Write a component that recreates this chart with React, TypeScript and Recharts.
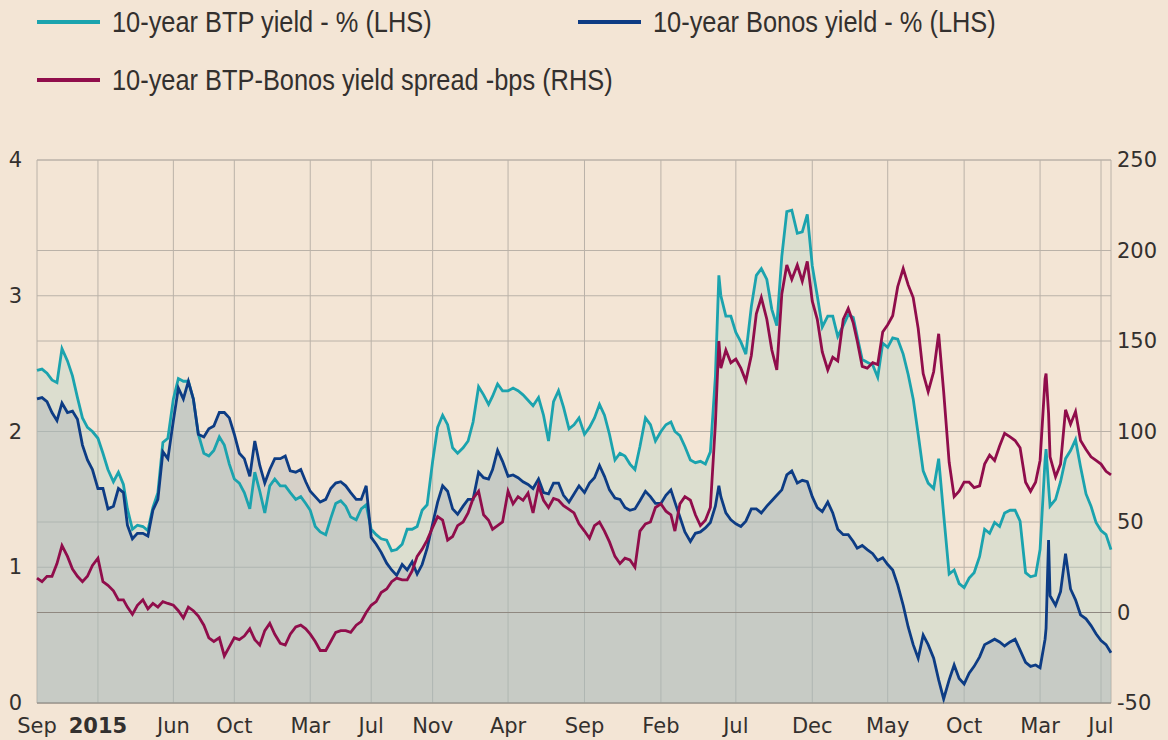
import React from 'react'
import { ComposedChart, Area, Line, XAxis, YAxis, CartesianGrid, ReferenceLine } from 'recharts'

// observation dates (roughly every 10 days, a few extra on the big spikes)
const dates = [
  '2014-09-01', '2014-09-11', '2014-09-21', '2014-10-01', '2014-10-11', '2014-10-21', '2014-11-01', '2014-11-11', '2014-11-21', '2014-12-01', '2014-12-11', '2014-12-21',
  '2015-01-01', '2015-01-11', '2015-01-21', '2015-02-01', '2015-02-11', '2015-02-21', '2015-03-01', '2015-03-11', '2015-03-21', '2015-04-01', '2015-04-11', '2015-04-21',
  '2015-05-01', '2015-05-11', '2015-05-21', '2015-06-01', '2015-06-11', '2015-06-21', '2015-07-01', '2015-07-11', '2015-07-21', '2015-08-01', '2015-08-11', '2015-08-21',
  '2015-09-01', '2015-09-11', '2015-09-21', '2015-10-01', '2015-10-11', '2015-10-21', '2015-11-01', '2015-11-11', '2015-11-21', '2015-12-01', '2015-12-11', '2015-12-21',
  '2016-01-01', '2016-01-11', '2016-01-21', '2016-02-01', '2016-02-11', '2016-02-21', '2016-03-01', '2016-03-11', '2016-03-21', '2016-04-01', '2016-04-11', '2016-04-21',
  '2016-05-01', '2016-05-11', '2016-05-21', '2016-06-01', '2016-06-11', '2016-06-21', '2016-07-01', '2016-07-11', '2016-07-21', '2016-08-01', '2016-08-11', '2016-08-21',
  '2016-09-01', '2016-09-11', '2016-09-21', '2016-10-01', '2016-10-11', '2016-10-21', '2016-11-01', '2016-11-11', '2016-11-21', '2016-12-01', '2016-12-11', '2016-12-21',
  '2017-01-01', '2017-01-11', '2017-01-21', '2017-02-01', '2017-02-11', '2017-02-21', '2017-03-01', '2017-03-11', '2017-03-21', '2017-04-01', '2017-04-11', '2017-04-21',
  '2017-05-01', '2017-05-11', '2017-05-21', '2017-06-01', '2017-06-11', '2017-06-21', '2017-07-01', '2017-07-11', '2017-07-21', '2017-08-01', '2017-08-11', '2017-08-21',
  '2017-09-01', '2017-09-11', '2017-09-21', '2017-10-01', '2017-10-11', '2017-10-21', '2017-11-01', '2017-11-11', '2017-11-21', '2017-12-01', '2017-12-11', '2017-12-21',
  '2018-01-01', '2018-01-11', '2018-01-21', '2018-02-01', '2018-02-11', '2018-02-21', '2018-03-01', '2018-03-11', '2018-03-21', '2018-04-01', '2018-04-11', '2018-04-21',
  '2018-05-01', '2018-05-11', '2018-05-21', '2018-05-28', '2018-06-01', '2018-06-11', '2018-06-21', '2018-07-01', '2018-07-11', '2018-07-21', '2018-08-01', '2018-08-11', '2018-08-21',
  '2018-09-01', '2018-09-11', '2018-09-21', '2018-10-01', '2018-10-11', '2018-10-21', '2018-11-01', '2018-11-11', '2018-11-21', '2018-12-01', '2018-12-11', '2018-12-21',
  '2019-01-01', '2019-01-11', '2019-01-21', '2019-02-01', '2019-02-11', '2019-02-21', '2019-03-01', '2019-03-11', '2019-03-21', '2019-04-01', '2019-04-11', '2019-04-21',
  '2019-05-01', '2019-05-11', '2019-05-21', '2019-06-01', '2019-06-11', '2019-06-21', '2019-07-01', '2019-07-11', '2019-07-21', '2019-08-01', '2019-08-11', '2019-08-21',
  '2019-09-01', '2019-09-11', '2019-09-21', '2019-10-01', '2019-10-11', '2019-10-21', '2019-11-01', '2019-11-11', '2019-11-21', '2019-12-01', '2019-12-11', '2019-12-21',
  '2020-01-01', '2020-01-11', '2020-01-21', '2020-02-01', '2020-02-11', '2020-02-21', '2020-03-01', '2020-03-11', '2020-03-13', '2020-03-18', '2020-03-21',
  '2020-04-01', '2020-04-11', '2020-04-21', '2020-05-01', '2020-05-11', '2020-05-21', '2020-06-01', '2020-06-11', '2020-06-21', '2020-07-01', '2020-07-11', '2020-07-21',
]

// 10-year BTP yield, %
const btpYield = [
  2.45, 2.46, 2.43, 2.38, 2.36, 2.61, 2.52, 2.41, 2.25, 2.10, 2.03, 2.00,
  1.95, 1.84, 1.72, 1.63, 1.70, 1.61, 1.43, 1.28, 1.31, 1.30, 1.27, 1.44,
  1.55, 1.92, 1.95, 2.24, 2.39, 2.37, 2.37, 2.24, 1.98, 1.84, 1.82, 1.86,
  1.96, 1.90, 1.76, 1.65, 1.62, 1.55, 1.43, 1.70, 1.56, 1.40, 1.60, 1.65,
  1.60, 1.60, 1.55, 1.50, 1.52, 1.47, 1.42, 1.30, 1.26, 1.24, 1.36, 1.47,
  1.49, 1.45, 1.37, 1.35, 1.43, 1.46, 1.28, 1.24, 1.21, 1.20, 1.12, 1.13,
  1.17, 1.28, 1.28, 1.30, 1.42, 1.46, 1.78, 2.03, 2.12, 2.05, 1.88, 1.84,
  1.88, 1.93, 2.07, 2.33, 2.27, 2.20, 2.26, 2.35, 2.30, 2.30, 2.32, 2.30,
  2.27, 2.23, 2.19, 2.25, 2.12, 1.93, 2.22, 2.30, 2.18, 2.02, 2.05, 2.10,
  1.98, 2.03, 2.10, 2.20, 2.12, 1.98, 1.79, 1.84, 1.82, 1.76, 1.72, 1.89,
  2.10, 2.05, 1.93, 2.00, 2.05, 2.07, 2.00, 1.97, 1.89, 1.79, 1.77, 1.78,
  1.76, 1.85, 2.40, 3.15, 3.00, 2.85, 2.85, 2.73, 2.66, 2.57, 2.92, 3.15, 3.20,
  3.12, 2.90, 2.78, 3.29, 3.62, 3.63, 3.46, 3.47, 3.60, 3.22, 3.00, 2.77,
  2.85, 2.85, 2.70, 2.78, 2.86, 2.84, 2.70, 2.53, 2.51, 2.49, 2.40, 2.65,
  2.62, 2.69, 2.68, 2.57, 2.42, 2.24, 1.98, 1.71, 1.62, 1.58, 1.80, 1.39,
  0.95, 0.98, 0.88, 0.85, 0.92, 0.96, 1.08, 1.28, 1.25, 1.33, 1.30, 1.40,
  1.42, 1.42, 1.34, 0.96, 0.93, 0.94, 1.13, 1.79, 1.87, 1.60, 1.45,
  1.50, 1.63, 1.80, 1.86, 1.94, 1.74, 1.54, 1.45, 1.33, 1.27, 1.24, 1.13,
]

// 10-year Bonos yield, %
const bonosYield = [
  2.24, 2.25, 2.22, 2.14, 2.08, 2.21, 2.14, 2.15, 2.09, 1.90, 1.79, 1.72,
  1.58, 1.58, 1.43, 1.45, 1.58, 1.55, 1.31, 1.21, 1.25, 1.25, 1.23, 1.42,
  1.50, 1.85, 1.80, 2.08, 2.32, 2.24, 2.37, 2.24, 1.98, 1.96, 2.02, 2.04,
  2.14, 2.14, 2.10, 1.98, 1.84, 1.80, 1.67, 1.93, 1.75, 1.62, 1.72, 1.80,
  1.80, 1.82, 1.71, 1.70, 1.72, 1.63, 1.56, 1.52, 1.48, 1.50, 1.58, 1.62,
  1.63, 1.60, 1.55, 1.50, 1.50, 1.60, 1.22, 1.17, 1.11, 1.03, 0.98, 0.94,
  1.02, 0.98, 1.04, 0.95, 1.02, 1.14, 1.32, 1.48, 1.60, 1.56, 1.43, 1.39,
  1.45, 1.50, 1.50, 1.70, 1.66, 1.65, 1.72, 1.86, 1.78, 1.67, 1.68, 1.66,
  1.63, 1.61, 1.58, 1.65, 1.55, 1.54, 1.62, 1.62, 1.53, 1.48, 1.54, 1.60,
  1.55, 1.62, 1.66, 1.75, 1.67, 1.57, 1.51, 1.50, 1.44, 1.42, 1.43, 1.49,
  1.56, 1.52, 1.47, 1.47, 1.53, 1.57, 1.48, 1.37, 1.26, 1.19, 1.25, 1.26,
  1.29, 1.33, 1.45, 1.60, 1.52, 1.40, 1.35, 1.32, 1.30, 1.34, 1.43, 1.43, 1.40,
  1.45, 1.49, 1.53, 1.57, 1.68, 1.71, 1.62, 1.64, 1.63, 1.52, 1.44, 1.41,
  1.48, 1.40, 1.28, 1.24, 1.24, 1.19, 1.14, 1.16, 1.13, 1.10, 1.05, 1.07,
  1.02, 0.98, 0.87, 0.72, 0.56, 0.43, 0.33, 0.50, 0.43, 0.33, 0.17, 0.03,
  0.17, 0.28, 0.18, 0.14, 0.22, 0.27, 0.34, 0.43, 0.45, 0.47, 0.45, 0.42,
  0.45, 0.47, 0.39, 0.30, 0.27, 0.28, 0.26, 0.47, 0.55, 1.20, 0.79,
  0.72, 0.82, 1.10, 0.84, 0.76, 0.65, 0.62, 0.57, 0.51, 0.46, 0.43, 0.37,
]

// 10-year BTP-Bonos spread, bps
const spreadBps = [
  19, 17, 20, 20, 27, 37, 31, 24, 20, 17, 20, 26,
  30, 17, 15, 12, 7, 7, 3, -1, 4, 7, 2, 5,
  3, 6, 5, 4, 1, -3, 3, 1, -2, -7, -14, -16,
  -14, -24, -19, -14, -15, -13, -9, -15, -18, -10, -6, -12,
  -17, -18, -12, -8, -7, -9, -12, -16, -21, -21, -16, -11,
  -10, -10, -11, -7, -5, 0, 4, 6, 11, 13, 17, 19,
  18, 18, 23, 31, 35, 40, 47, 53, 51, 40, 42, 48,
  50, 55, 63, 67, 54, 51, 46, 48, 50, 67, 60, 64,
  62, 66, 55, 70, 62, 58, 63, 62, 59, 57, 55, 49,
  45, 41, 48, 50, 45, 39, 31, 27, 30, 29, 25, 45,
  49, 50, 58, 60, 56, 54, 45, 60, 64, 62, 54, 48,
  51, 58, 104, 150, 135, 145, 138, 140, 135, 128, 142, 165, 174,
  162, 145, 134, 176, 192, 184, 192, 183, 194, 172, 162, 144,
  134, 141, 139, 162, 168, 160, 150, 136, 135, 138, 137, 155,
  159, 164, 180, 190, 181, 174, 157, 132, 122, 133, 154, 122,
  83, 64, 67, 72, 72, 69, 70, 82, 87, 84, 92, 99,
  97, 95, 91, 72, 67, 72, 84, 129, 132, 110, 86,
  75, 82, 112, 104, 111, 95, 90, 86, 84, 82, 78, 76,
]

const seriesNames = [
  '10-year BTP yield - % (LHS)',
  '10-year Bonos yield - % (LHS)',
  '10-year BTP-Bonos yield spread -bps (RHS)',
]

const tickMonths = [
  '2014-09', '2015-01', '2015-06', '2015-10', '2016-03', '2016-07', '2016-11', '2017-04',
  '2017-09', '2018-02', '2018-07', '2018-12', '2019-05', '2019-10', '2020-03', '2020-07',
]
const tickLabels = ['Sep', '2015', 'Jun', 'Oct', 'Mar', 'Jul', 'Nov', 'Apr', 'Sep', 'Feb', 'Jul', 'Dec', 'May', 'Oct', 'Mar', 'Jul']
const boldLabels = ['2015']
const lhsTicks = [0, 1, 2, 3, 4]
const rhsTicks = [-50, 0, 50, 100, 150, 200, 250]

const BTP = '#1ba3ae'
const BONOS = '#0d3c84'
const SPREAD = '#900d4b'
const TEXT = '#33302e'
const GRID = '#bab2a8'
const BG = '#f3e5d5'

const toTime = (s: string) => {
  const [y, m, d] = s.split('-').map(Number)
  return Date.UTC(y, m - 1, d || 1)
}

const data = dates.map((d, i) => ({
  t: toTime(d),
  btp: btpYield[i],
  bonos: bonosYield[i],
  spread: spreadBps[i],
}))

const tickTimes = tickMonths.map(toTime)
const xDomain = [toTime(dates[0]), toTime(dates[dates.length - 1])]

const tickFont = "'DejaVu Sans', Verdana, sans-serif"
const legendFont = "'Liberation Sans', Arial, sans-serif"

function XTick(props: any) {
  const { x, y, payload } = props
  const label = tickLabels[tickTimes.indexOf(payload.value)]
  return (
    <text x={x} y={y + 30} textAnchor="middle" fontFamily={tickFont} fontSize={21}
      fontWeight={boldLabels.includes(label) ? 700 : 400} fill={TEXT}>
      {label}
    </text>
  )
}

function LeftTick(props: any) {
  const { x, y, payload } = props
  return (
    <text x={x - 15} y={y + 7} textAnchor="end" fontFamily={tickFont} fontSize={21} fill={TEXT}>
      {payload.value}
    </text>
  )
}

function RightTick(props: any) {
  const { x, y, payload } = props
  return (
    <text x={x + 6} y={y + 7} textAnchor="start" fontFamily={tickFont} fontSize={21} fill={TEXT}>
      {payload.value}
    </text>
  )
}

// the legend font is a condensed face; squeeze a regular sans to the same width
function LegendItem({ color, label, left, top }: { color: string; label: string; left: number; top: number }) {
  return (
    <div style={{ position: 'absolute', left, top, height: 40, display: 'flex', alignItems: 'center' }}>
      <span style={{ display: 'inline-block', width: 63, height: 4, background: color, marginRight: 12 }} />
      <span style={{
        display: 'inline-block', fontFamily: legendFont, fontSize: 29, color: TEXT, whiteSpace: 'nowrap',
        transform: 'scaleX(0.875)', transformOrigin: 'left center',
      }}>{label}</span>
    </div>
  )
}

export default function App() {
  return (
    <div style={{ position: 'relative', width: 1168, height: 740, background: BG, overflow: 'hidden' }}>
      <style>{'body{margin:0;background:' + BG + '}'}</style>
      <LegendItem color={BTP} label={seriesNames[0]} left={37} top={2} />
      <LegendItem color={BONOS} label={seriesNames[1]} left={578} top={2} />
      <LegendItem color={SPREAD} label={seriesNames[2]} left={37} top={60} />
      <div style={{ position: 'absolute', left: 0, top: 0 }}>
        <ComposedChart width={1168} height={740} data={data} margin={{ top: 160, right: 0, bottom: 0, left: 0 }}>
          <CartesianGrid yAxisId="left" stroke={GRID} horizontalValues={lhsTicks} />
          <CartesianGrid yAxisId="right" stroke={GRID} vertical={false} horizontalValues={rhsTicks} />
          <XAxis
            dataKey="t"
            type="number"
            scale="time"
            domain={xDomain}
            ticks={tickTimes}
            interval={0}
            height={37}
            tickSize={0}
            tickMargin={0}
            tickLine={false}
            axisLine={{ stroke: '#8f8880' }}
            tick={<XTick />}
          />
          <YAxis
            yAxisId="left"
            domain={[0, 4]}
            ticks={lhsTicks}
            width={37}
            tickSize={0}
            tickMargin={0}
            tickLine={false}
            axisLine={false}
            tick={<LeftTick />}
          />
          <YAxis
            yAxisId="right"
            orientation="right"
            domain={[-50, 250]}
            ticks={rhsTicks}
            width={57}
            tickSize={0}
            tickMargin={0}
            tickLine={false}
            axisLine={false}
            tick={<RightTick />}
          />
          <Area yAxisId="left" type="linear" dataKey="btp" stroke="none" fill="#b1d1c7" fillOpacity={0.35} isAnimationActive={false} />
          <Area yAxisId="left" type="linear" dataKey="bonos" stroke="none" fill="#a0a8b3" fillOpacity={0.35} isAnimationActive={false} />
          <ReferenceLine yAxisId="right" y={0} stroke="#8f8880" />
          <Line yAxisId="left" type="linear" dataKey="btp" stroke={BTP} strokeWidth={2.8} dot={false} isAnimationActive={false} />
          <Line yAxisId="left" type="linear" dataKey="bonos" stroke={BONOS} strokeWidth={2.8} dot={false} isAnimationActive={false} />
          <Line yAxisId="right" type="linear" dataKey="spread" stroke={SPREAD} strokeWidth={2.8} dot={false} isAnimationActive={false} />
        </ComposedChart>
      </div>
    </div>
  )
}
